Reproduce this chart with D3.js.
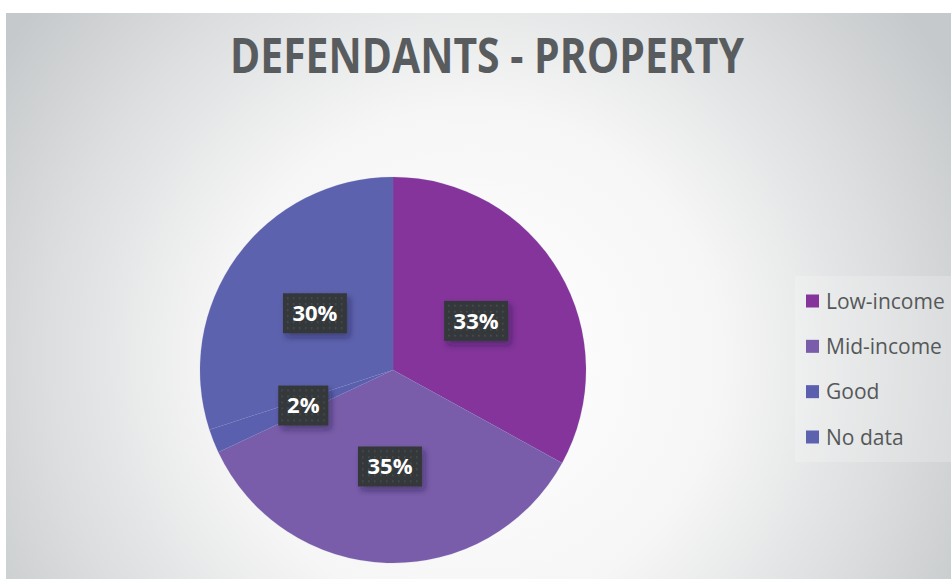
<!DOCTYPE html>
<html>
<head>
<meta charset="utf-8">
<script src="https://cdn.jsdelivr.net/npm/d3@7"></script>
<style>
  html, body { margin: 0; padding: 0; background: #ffffff; }
  svg { display: block; }
</style>
</head>
<body>
<svg id="chart" width="951" height="579"></svg>
<script>
// Defendants by property category
const categories = ["Low-income", "Mid-income", "Good", "No data"];
const shares = [33, 35, 2, 30];
const colors = ["#84349a", "#7a5daa", "#5b60ae", "#5d62ae"];
const labels = ["33%", "35%", "2%", "30%"];
const title = "DEFENDANTS - PROPERTY";

const W = 951, H = 579;
const svg = d3.select("#chart");
const defs = svg.append("defs");

// Background: light radial haze, grey towards the edges
const bg = defs.append("radialGradient")
  .attr("id", "bgGrad")
  .attr("gradientUnits", "userSpaceOnUse")
  .attr("cx", 470).attr("cy", 360).attr("r", 560);
bg.append("stop").attr("offset", "0").attr("stop-color", "#ffffff");
bg.append("stop").attr("offset", "0.45").attr("stop-color", "#f6f6f6");
bg.append("stop").attr("offset", "0.75").attr("stop-color", "#dcdedf");
bg.append("stop").attr("offset", "1").attr("stop-color", "#c6c9cb");

// Dotted fill for the value boxes
const pat = defs.append("pattern")
  .attr("id", "dots")
  .attr("patternUnits", "userSpaceOnUse")
  .attr("width", 6).attr("height", 6);
pat.append("rect").attr("width", 6).attr("height", 6).attr("fill", "#34393b");
pat.append("rect").attr("x", 2).attr("y", 2).attr("width", 1.5).attr("height", 1.5).attr("fill", "#4a4f51");

const shadow = defs.append("filter")
  .attr("id", "boxShadow")
  .attr("x", "-30%").attr("y", "-30%").attr("width", "170%").attr("height", "180%");
shadow.append("feDropShadow")
  .attr("dx", 3).attr("dy", 4).attr("stdDeviation", 3)
  .attr("flood-color", "#1c1f3a").attr("flood-opacity", 0.45);

svg.append("rect")
  .attr("x", 6).attr("y", 13)
  .attr("width", W - 6).attr("height", H - 13)
  .attr("fill", "url(#bgGrad)");

// Title
svg.append("text")
  .attr("x", 487).attr("y", 73)
  .attr("text-anchor", "middle")
  .attr("font-family", "'Open Sans', sans-serif")
  .attr("font-weight", 700)
  .attr("font-size", 48)
  .attr("textLength", 514)
  .attr("lengthAdjust", "spacingAndGlyphs")
  .attr("fill", "#595c5e")
  .text(title);

// Pie
const cx = 393, cy = 370, R = 193;
const pie = d3.pie().sort(null).value(d => d);
const arcs = pie(shares);
const arc = d3.arc().innerRadius(0).outerRadius(R);

const g = svg.append("g").attr("transform", `translate(${cx},${cy})`);
g.selectAll("path.slice")
  .data(arcs)
  .join("path")
  .attr("class", "slice")
  .attr("d", arc)
  .attr("fill", (d, i) => colors[i])
  .attr("stroke", "#7d80c0")
  .attr("stroke-opacity", 0.3)
  .attr("stroke-width", 0.5);

// Value labels in dark boxes at the slice centroids
const boxW = [64, 64, 50, 64], boxH = 40;
const lab = g.selectAll("g.lab")
  .data(arcs)
  .join("g")
  .attr("class", "lab")
  .attr("transform", d => {
    const [x, y] = arc.centroid(d);
    return `translate(${x},${y})`;
  });
lab.append("rect")
  .attr("x", (d, i) => -boxW[i] / 2)
  .attr("y", -boxH / 2)
  .attr("width", (d, i) => boxW[i])
  .attr("height", boxH)
  .attr("fill", "url(#dots)")
  .attr("filter", "url(#boxShadow)");
lab.append("text")
  .attr("text-anchor", "middle")
  .attr("dy", "0.36em")
  .attr("font-family", "'Open Sans', sans-serif")
  .attr("font-weight", 700)
  .attr("font-size", 22)
  .attr("fill", "#ffffff")
  .text((d, i) => labels[i]);

// Legend
const legY = d3.scalePoint().domain(categories).range([301, 437]);
svg.append("rect")
  .attr("x", 795).attr("y", 276).attr("width", 156).attr("height", 186)
  .attr("fill", "#ffffff").attr("opacity", 0.2);
const leg = svg.selectAll("g.leg")
  .data(categories)
  .join("g")
  .attr("class", "leg")
  .attr("transform", d => `translate(806,${legY(d)})`);
leg.append("rect")
  .attr("x", 0).attr("y", -6.5)
  .attr("width", 13).attr("height", 13)
  .attr("fill", (d, i) => colors[i]);
leg.append("text")
  .attr("x", 20).attr("dy", "0.36em")
  .attr("font-family", "'Open Sans', sans-serif")
  .attr("font-size", 21)
  .attr("fill", "#555859")
  .text(d => d);
</script>
</body>
</html>
